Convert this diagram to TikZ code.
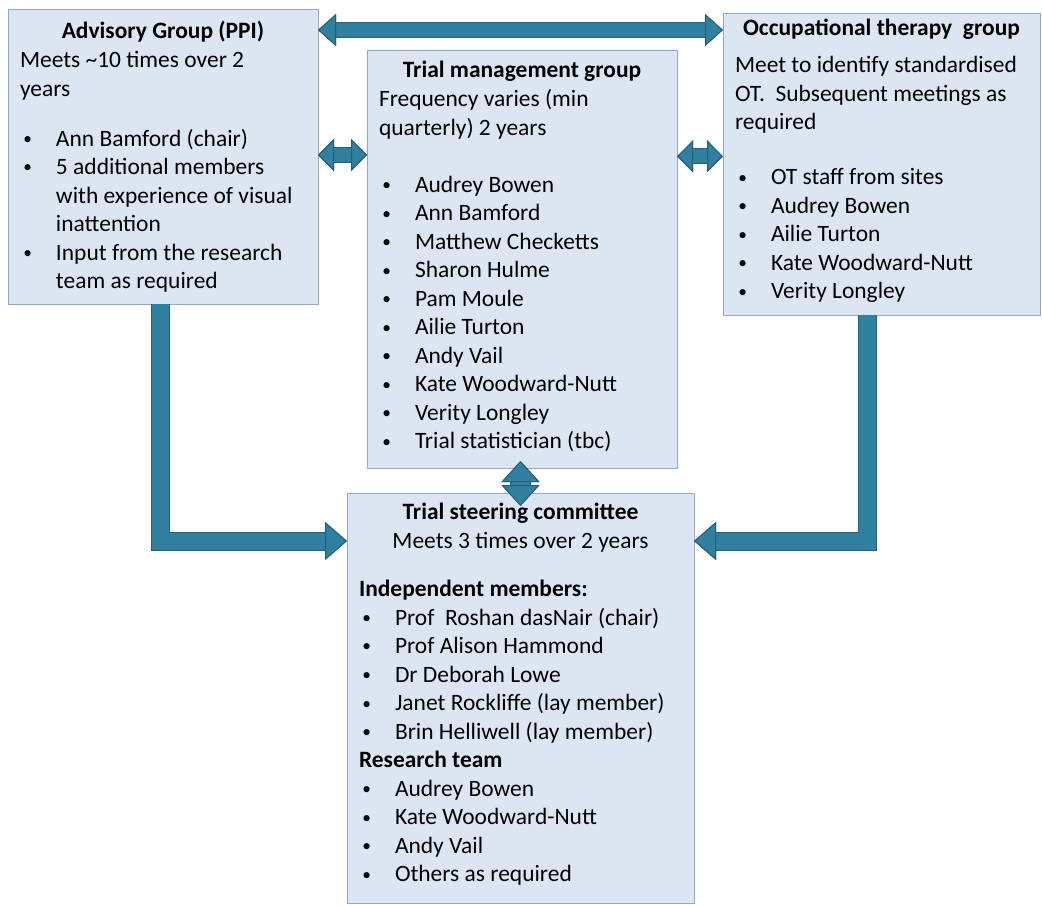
\documentclass[tikz,border=0pt]{standalone}
\usepackage{fontspec}
\setmainfont{Carlito}
\usetikzlibrary{arrows.meta}

\definecolor{boxfill}{HTML}{DCE6F2}
\definecolor{boxline}{HTML}{93A8C3}
\definecolor{arrowfill}{HTML}{31809F}
\definecolor{arrowline}{HTML}{255F7B}

\newcommand{\bdot}{{\fontsize{13}{13}\selectfont\raisebox{1.2pt}{\textbullet}}}
\newcommand{\bitem}[1]{\mbox{\makebox[27pt][l]{\hspace{2.5pt}\bdot}#1}}
\newcommand{\bmore}[1]{\mbox{\hspace*{27pt}#1}}
\newcommand{\btitle}[1]{\makebox[\linewidth]{\textbf{#1}}}
\newcommand{\boxtext}[4]{\parbox[c][#1][t]{#2}{\fontsize{17.6}{21.4}\selectfont
  \raggedright\vspace*{#3}\strut#4}}

\begin{document}
\begin{tikzpicture} [
          x=0.75pt, y=-0.75pt,
          group/.style = {draw=boxline, fill=boxfill, line width=0.75pt, inner xsep=9pt,
            inner ysep=0pt, outer sep=0pt, anchor=north west},
          flow/.style 2 args = {draw=arrowfill, line width=#1, line join=miter,
            preaction={draw=arrowline, line width=#2}},
          headT/.tip = {Triangle[width=24pt, length=13.5pt, line width=0.75pt, fill=arrowfill, color=arrowline]},
          headS/.tip = {Triangle[width=24pt, length=12pt, line width=0.75pt, fill=arrowfill, color=arrowline]},
          headV/.tip = {Triangle[width=28.5pt, length=15.75pt, line width=0.75pt, fill=arrowfill, color=arrowline]},
          headE/.tip = {Triangle[width=28.5pt, length=16.5pt, line width=0.75pt, fill=arrowfill, color=arrowline]}
          ]
          \useasboundingbox[fill=white] (0,0) rectangle (1042,906);

          \node[group] (adv) at (8,10) {\boxtext{220.5pt}{214.5pt}{6.75pt}{%
            \btitle{Advisory Group (PPI)}\\
            \mbox{Meets \textasciitilde10 times over 2}\\
            years\\[16.1pt]
            \bitem{Ann Bamford (chair)}\\
            \bitem{5 additional members}\\
            \bmore{with experience of visual}\\
            \bmore{inattention}\\
            \bitem{Input from the research}\\
            \bmore{team as required}}};

          \node[group] (tmg) at (367,51) {\boxtext{312.75pt}{214.5pt}{5.25pt}{%
            \btitle{Trial management group}\\
            \mbox{Frequency varies (min}\\
            \mbox{quarterly) 2 years}\\[21.4pt]
            \bitem{Audrey Bowen}\\
            \bitem{Ann Bamford}\\
            \bitem{Matthew Checketts}\\
            \bitem{Sharon Hulme}\\
            \bitem{Pam Moule}\\
            \bitem{Ailie Turton}\\
            \bitem{Andy Vail}\\
            \bitem{Kate Woodward-Nutt}\\
            \bitem{Verity Longley}\\
            \bitem{Trial statistician (tbc)}}};

          \node[group] (ot) at (723,14) {\boxtext{225.75pt}{219.75pt}{1.5pt}{%
            \btitle{Occupational therapy\ \ group}\\[6pt]
            \mbox{Meet to identify standardised}\\
            \mbox{OT.\ \ Subsequent meetings as}\\
            required\\[19.9pt]
            \bitem{OT staff from sites}\\
            \bitem{Audrey Bowen}\\
            \bitem{Ailie Turton}\\
            \bitem{Kate Woodward-Nutt}\\
            \bitem{Verity Longley}}};

          \node[group] (tsc) at (347,493) {\boxtext{307.5pt}{242.25pt}{5.25pt}{%
            \btitle{Trial steering committee}\\
            \makebox[\linewidth]{Meets 3 times over 2 years}\\[14.6pt]
            \textbf{Independent members:}\\
            \bitem{Prof\ \ Roshan dasNair (chair)}\\
            \bitem{Prof Alison Hammond}\\
            \bitem{Dr Deborah Lowe}\\
            \bitem{Janet Rockliffe (lay member)}\\
            \bitem{Brin Helliwell (lay member)}\\
            \textbf{Research team}\\
            \bitem{Audrey Bowen}\\
            \bitem{Kate Woodward-Nutt}\\
            \bitem{Andy Vail}\\
            \bitem{Others as required}}};

          \path ([yshift=-15pt]adv.north east) coordinate (advt);
          \path ([yshift=-78pt]tmg.north west) coordinate (tmgl);
          \path ([yshift=-79pt]tmg.north east) coordinate (tmgr);
          \path (tsc.north |- tmg.south) ++(0,-7) coordinate (tmgb);

          \draw[flow={10.5pt}{12pt}, headT-headT] (advt) -- (ot.west |- advt);
          \draw[flow={10.5pt}{12pt}, headS-headS] (adv.east |- tmgl) -- (tmgl);
          \draw[flow={10.5pt}{12pt}, headS-headS] (tmgr) -- (ot.west |- tmgr);
          \draw[flow={14pt}{15.5pt}, headV-headV] (tmgb) -- ([yshift=-9.75pt]tsc.north);
          \draw[flow={12.75pt}{14.25pt}, -headE] ([xshift=114pt]adv.south west) |- ([yshift=-36pt]tsc.north west);
          \draw[flow={12.75pt}{14.25pt}, -headE] ([xshift=108pt]ot.south west) |- ([yshift=-36pt]tsc.north east);
        \end{tikzpicture}
\end{document}
